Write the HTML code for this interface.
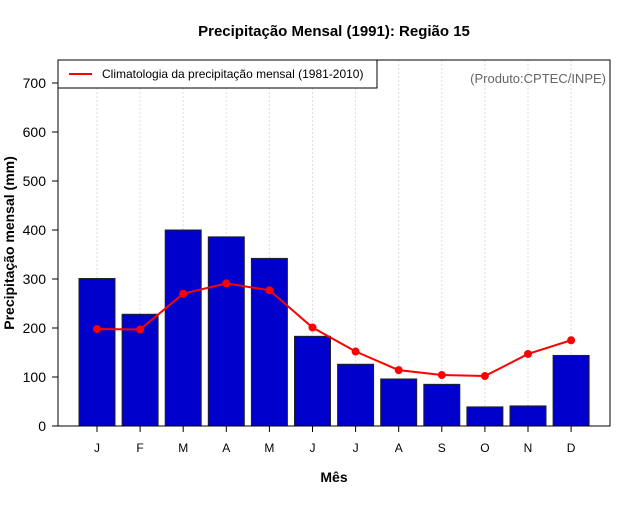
<!DOCTYPE html>
<html><head><meta charset="utf-8"><style>
body{margin:0;background:#fff;font-family:"Liberation Sans",sans-serif}
</style></head><body>
<svg id="chart" width="640" height="500" xmlns="http://www.w3.org/2000/svg" font-family="Liberation Sans, sans-serif">
<rect width="640" height="500" fill="#fff"/>
<text x="334" y="36" text-anchor="middle" font-size="15" font-weight="bold">Precipitação Mensal (1991): Região 15</text>
<text transform="translate(14,243) rotate(-90)" text-anchor="middle" font-size="14" font-weight="bold">Precipitação mensal (mm)</text>
<text x="334" y="482" text-anchor="middle" font-size="14" font-weight="bold">Mês</text>
<g id="grid"></g><g id="bars"></g><g id="line"></g><g id="axes"></g>
<rect x="58" y="60" width="552" height="366" fill="none" stroke="#000" stroke-width="1"/>
<g>
<rect x="58" y="60" width="319" height="28" fill="#fff" stroke="#000"/>
<line x1="69" y1="74" x2="92" y2="74" stroke="red" stroke-width="2"/>
<text x="102" y="78" font-size="12">Climatologia da precipitação mensal (1981-2010)</text>
</g>
<text x="606" y="83" text-anchor="end" font-size="13" fill="#666">(Produto:CPTEC/INPE)</text>
</svg>
<script>
const months=['J','F','M','A','M','J','J','A','S','O','N','D'];
const observed=[301,228,400,386,342,183,126,96,85,39,41,144];
const climatology=[198,197,270,291,277,201,152,114,104,102,147,175];
const yTicks=[0,100,200,300,400,500,600,700];
const NS='http://www.w3.org/2000/svg';
const x=i=>97+i*43.1;
const y=v=>426-v*0.49;
function mk(t,a,p){const e=document.createElementNS(NS,t);for(const k in a)e.setAttribute(k,a[k]);p.appendChild(e);return e;}
const grid=document.getElementById('grid'),bars=document.getElementById('bars'),line=document.getElementById('line'),axes=document.getElementById('axes');
months.forEach((m,i)=>{
 const g=mk('line',{x1:x(i),x2:x(i),y1:60,y2:426,stroke:'#ddd','stroke-dasharray':'2,2'},grid);
 
 
 const b=mk('rect',{x:x(i)-18,y:y(observed[i]),width:36,height:y(0)-y(observed[i]),fill:'#0000cd',stroke:'#222','stroke-width':1},bars);
 
 
 const t=mk('line',{x1:x(i),x2:x(i),y1:426,y2:432,stroke:'#000'},axes);
 
 
 const l=mk('text',{x:x(i),y:452,'text-anchor':'middle','font-size':12},axes);l.textContent=m;
 
 
});
const pl=mk('polyline',{points:climatology.map((v,i)=>x(i)+','+y(v)).join(' '),fill:'none',stroke:'red','stroke-width':2},line);


climatology.forEach((v,i)=>{const c=mk('circle',{cx:x(i),cy:y(v),r:4,fill:'red'},line);
 
 });
yTicks.forEach(v=>{
 const t=mk('line',{x1:52,x2:58,y1:y(v),y2:y(v),stroke:'#000'},axes);
 
 
 const l=mk('text',{x:46,y:y(v)+5,'text-anchor':'end','font-size':14},axes);l.textContent=v;
 
 
});
</script>
</body></html>
